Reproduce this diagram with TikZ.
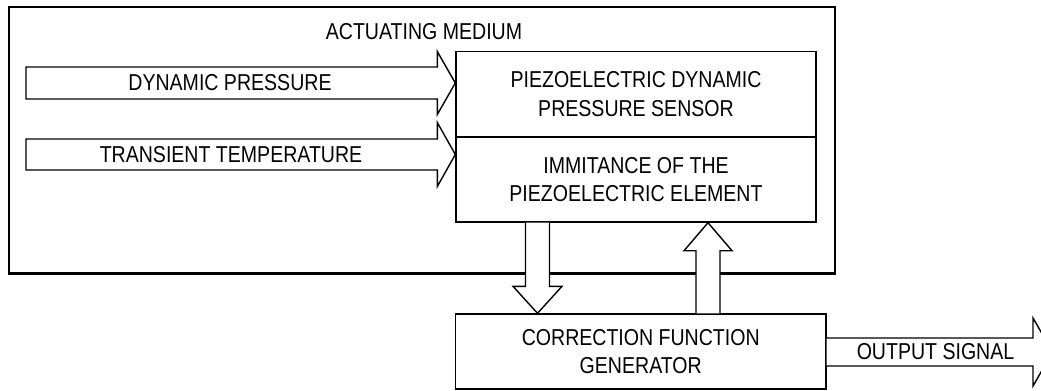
\documentclass[tikz,border=0pt]{standalone}
\usepackage{fontspec}
\setmainfont{Liberation Sans}[FakeStretch=0.85]
\usetikzlibrary{calc}

\begin{document}
\begin{tikzpicture}[x=0.75pt, y=-0.75pt,
  every node/.style={font=\fontsize{17.25pt}{21.4pt}\selectfont, inner sep=0pt},
  box/.style={draw, line width=1.05pt, fill=white, align=center},
  frame/.style={draw, line width=1.75pt},
  blockarrow/.style={draw, line width=1.05pt, fill=white, line join=miter}
]
\clip (0,0) rectangle (1041,390);
\fill[white] (0,0) rectangle (1041,390);

% enclosing frame of the actuating medium
\node[frame, minimum width=826*0.75pt, minimum height=266.5*0.75pt] (medium) at (422,140.25) {};
\node (mediumlbl) at (424,32) {ACTUATING MEDIUM};

% sensor blocks
\node[box, minimum width=360*0.75pt, minimum height=85.5*0.75pt] (sensor) at (636,94.25)
  {PIEZOELECTRIC DYNAMIC\\PRESSURE SENSOR};
\node[box, minimum width=360*0.75pt, minimum height=85*0.75pt] (immit) at (636,179.5)
  {IMMITANCE OF THE\\PIEZOELECTRIC ELEMENT};
\node[box, minimum width=370.5*0.75pt, minimum height=75*0.75pt] (corr) at (640.75,351.5)
  {CORRECTION FUNCTION\\GENERATOR};

% input arrows
\coordinate (dpS) at (26,83);
\coordinate (ttS) at (26,154.5);
\coordinate (dpT) at (sensor.west |- dpS);
\coordinate (ttT) at (immit.west |- ttS);
\draw[blockarrow] ($(dpS)+(0,-16)$) -- ($(dpT)+(-18,-16)$) -- ($(dpT)+(-18,-31.5)$)
  -- (dpT) -- ($(dpT)+(-18,31.5)$) -- ($(dpT)+(-18,16)$) -- ($(dpS)+(0,16)$) -- cycle;
\draw[blockarrow] ($(ttS)+(0,-15.5)$) -- ($(ttT)+(-18,-15.5)$) -- ($(ttT)+(-18,-32)$)
  -- (ttT) -- ($(ttT)+(-18,32)$) -- ($(ttT)+(-18,15.5)$) -- ($(ttS)+(0,15.5)$) -- cycle;
\node (dplbl) at (230,83) {DYNAMIC PRESSURE};
\node (ttlbl) at (231,154.5) {TRANSIENT TEMPERATURE};

% arrow down to the correction function generator
\coordinate (dnx) at (537.5,0);
\coordinate (dnA) at (immit.south -| dnx);
\coordinate (dnB) at (corr.north -| dnx);
\draw[blockarrow] ($(dnA)+(-12,0)$) -- ($(dnB)+(-12,-27)$) -- ($(dnB)+(-24.5,-27)$)
  -- (dnB) -- ($(dnB)+(24.5,-27)$) -- ($(dnB)+(12,-27)$) -- ($(dnA)+(12,0)$);

% arrow back up to the piezoelectric element
\coordinate (upx) at (708,0);
\coordinate (upA) at (corr.north -| upx);
\coordinate (upB) at (immit.south -| upx);
\draw[blockarrow] ($(upA)+(-12,0)$) -- ($(upB)+(-12,28)$) -- ($(upB)+(-24,28)$)
  -- (upB) -- ($(upB)+(24,28)$) -- ($(upB)+(12,28)$) -- ($(upA)+(12,0)$);

% output arrow
\coordinate (outy) at (0,352);
\coordinate (outA) at (corr.east |- outy);
\coordinate (outB) at (1052.5,352);
\draw[blockarrow] ($(outA)+(0,-14)$) -- ($(outB)+(-19.5,-14)$) -- ($(outB)+(-19.5,-34)$)
  -- (outB) -- ($(outB)+(-19.5,34)$) -- ($(outB)+(-19.5,14)$) -- ($(outA)+(0,14)$);
\node (outlbl) at (935.5,352) {OUTPUT SIGNAL};
\end{tikzpicture}
\end{document}
